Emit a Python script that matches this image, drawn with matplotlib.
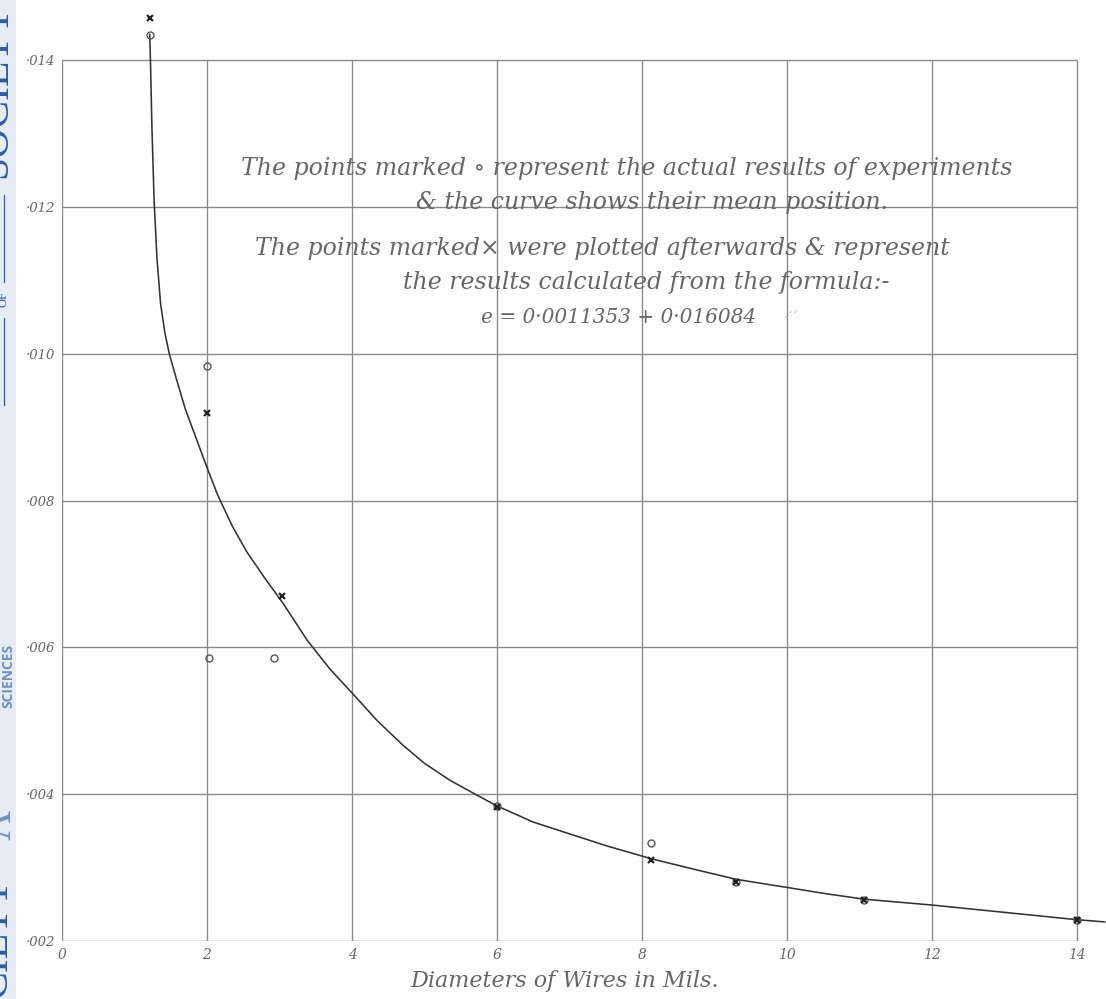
import numpy as np
from matplotlib import pyplot as plt
from matplotlib.patches import Rectangle

# curve traced from the sheet (diameter in mils, e)
curve_d = [1.21, 1.22, 1.24, 1.27, 1.31, 1.36, 1.42, 1.48, 1.58, 1.70, 1.85, 2.00,
           2.15, 2.35, 2.55, 2.80, 3.05, 3.38, 3.70, 4.00, 4.35, 4.70, 5.00, 5.35,
           5.70, 6.00, 6.50, 7.00, 7.50, 8.13, 8.75, 9.30, 10.0, 10.5, 11.06, 12.0,
           13.0, 14.0, 14.38]
curve_e = [0.01435, 0.0140, 0.0131, 0.0121, 0.0113, 0.01068, 0.01028, 0.0100, 0.00965,
           0.00925, 0.00885, 0.00845, 0.00807, 0.00765, 0.00730, 0.00694, 0.00660,
           0.00610, 0.00570, 0.00538, 0.00500, 0.00467, 0.00442, 0.00419, 0.00400,
           0.00384, 0.00362, 0.00346, 0.00330, 0.00312, 0.00297, 0.00284, 0.00273,
           0.00265, 0.00257, 0.00249, 0.00239, 0.00229, 0.00226]

# points marked x (calculated)
calc_d = [1.21, 2.00, 3.03, 6.00, 8.13, 9.30, 11.06, 14.0]
calc_e = [0.01457, 0.00919, 0.00670, 0.00382, 0.00311, 0.00281, 0.00256, 0.00229]

# points marked o (experiments)
exp_d = [1.21, 2.00, 2.03, 2.93, 6.00, 8.13, 9.30, 11.06, 14.0]
exp_e = [0.01435, 0.00984, 0.00585, 0.00585, 0.00384, 0.00333, 0.00281, 0.00256, 0.00229]

x_ticks = [0, 2, 4, 6, 8, 10, 12, 14]
y_ticks = [0.002, 0.004, 0.006, 0.008, 0.010, 0.012, 0.014]
y_labels = ['·002', '·004', '·006', '·008', '·010', '·012', '·014']

W, H = 1106, 999
ink = '#333333'
grid_col = '#8a8a8a'
txt_col = '#666666'

fig = plt.figure(figsize=(W / 100, H / 100), dpi=100)
fig.patch.set_facecolor('white')

# axes: x=0 at px 62, 72.5 px per mil; y=.002 at px 941, 73.4 px per .001
ax = fig.add_axes([62 / W, (H - 941) / H, (W - 62) / W, 941 / H])
ax.set_xlim(0, (W - 62) / 72.5)
ax.set_ylim(0.002, 0.002 + 941 / 73400)
for s in ax.spines.values():
    s.set_visible(False)

ax.vlines(x_ticks, y_ticks[0], y_ticks[-1], color=grid_col, lw=1.0, zorder=1)
ax.hlines(y_ticks, x_ticks[0], x_ticks[-1], color=grid_col, lw=1.0, zorder=1)

ax.plot(curve_d, curve_e, color=ink, lw=1.15, zorder=3)
ax.plot(exp_d, exp_e, 'o', ms=5, mfc='none', mec='#555555', mew=1.0, zorder=4)
ax.plot(calc_d, calc_e, 'x', ms=5, color='#222222', mew=1.6, zorder=5)

ax.set_xticks(x_ticks)
ax.set_xticklabels([str(t) for t in x_ticks], fontstyle='italic', family='DejaVu Serif',
                   fontsize=10, color=txt_col)
ax.set_yticks(y_ticks)
ax.set_yticklabels(y_labels, fontstyle='italic', family='DejaVu Serif',
                   fontsize=9.5, color=txt_col)
ax.tick_params(length=0, pad=5)

fig.text(565 / W, 1 - 981 / H, 'Diameters of Wires in Mils.', fontstyle='italic',
         family='DejaVu Serif', fontsize=16, color=txt_col, ha='center', va='center')

# notes written on the sheet
note = dict(fontstyle='italic', family='DejaVu Serif', color=txt_col, ha='center', va='center')
fig.text(627 / W, 1 - 168 / H, 'The points marked ∘ represent the actual results of experiments',
         fontsize=17, **note)
fig.text(652 / W, 1 - 203 / H, '& the curve shows their mean position.', fontsize=17, **note)
fig.text(602 / W, 1 - 248 / H, 'The points marked× were plotted afterwards & represent',
         fontsize=17, **note)
fig.text(646 / W, 1 - 283 / H, 'the results calculated from the formula:-', fontsize=17, **note)
fig.text(619 / W, 1 - 317 / H, 'e = 0·0011353 + 0·016084', fontsize=14.5, **note)
fig.text(790 / W, 1 - 314 / H, '.··', fontsize=11, fontstyle='italic', color='#c8c8c8',
         ha='center', va='center')

# archive strip on the left edge
fig.patches.append(Rectangle((0, 0), 16 / W, 1, transform=fig.transFigure,
                             facecolor='#e6edf7', edgecolor='none', zorder=0))
blue = '#2d5ca8'
fig.text(-4 / W, 1 - 178 / H, 'SOCIETY', rotation=90, rotation_mode='anchor', ha='left',
         va='center', fontsize=30, family='Liberation Serif', color=blue)
fig.text(-4 / W, 1 - 998 / H, 'CIETY', rotation=90, rotation_mode='anchor', ha='left',
         va='center', fontsize=30, family='Liberation Serif', color=blue)
fig.text(0 / W, 1 - 840 / H, 'A', rotation=90, rotation_mode='anchor', ha='left',
         va='center', fontsize=30, family='Liberation Serif', color='#6f8fc6')
fig.text(8 / W, 1 - 708 / H, 'SCIENCES', rotation=90, rotation_mode='anchor', ha='left',
         va='center', fontsize=10, family='Open Sans', fontweight='bold', color='#6f8fc6')
fig.lines.append(plt.Line2D([4 / W, 4 / W], [1 - 195 / H, 1 - 282 / H],
                            transform=fig.transFigure, color=blue, lw=0.9))
fig.lines.append(plt.Line2D([4 / W, 4 / W], [1 - 318 / H, 1 - 405 / H],
                            transform=fig.transFigure, color=blue, lw=0.9))
fig.text(4 / W, 1 - 299 / H, 'OF', rotation=90, rotation_mode='anchor', ha='center',
         va='center', fontsize=9, family='Liberation Serif', color=blue)

fig.savefig('out.png', dpi=100)
